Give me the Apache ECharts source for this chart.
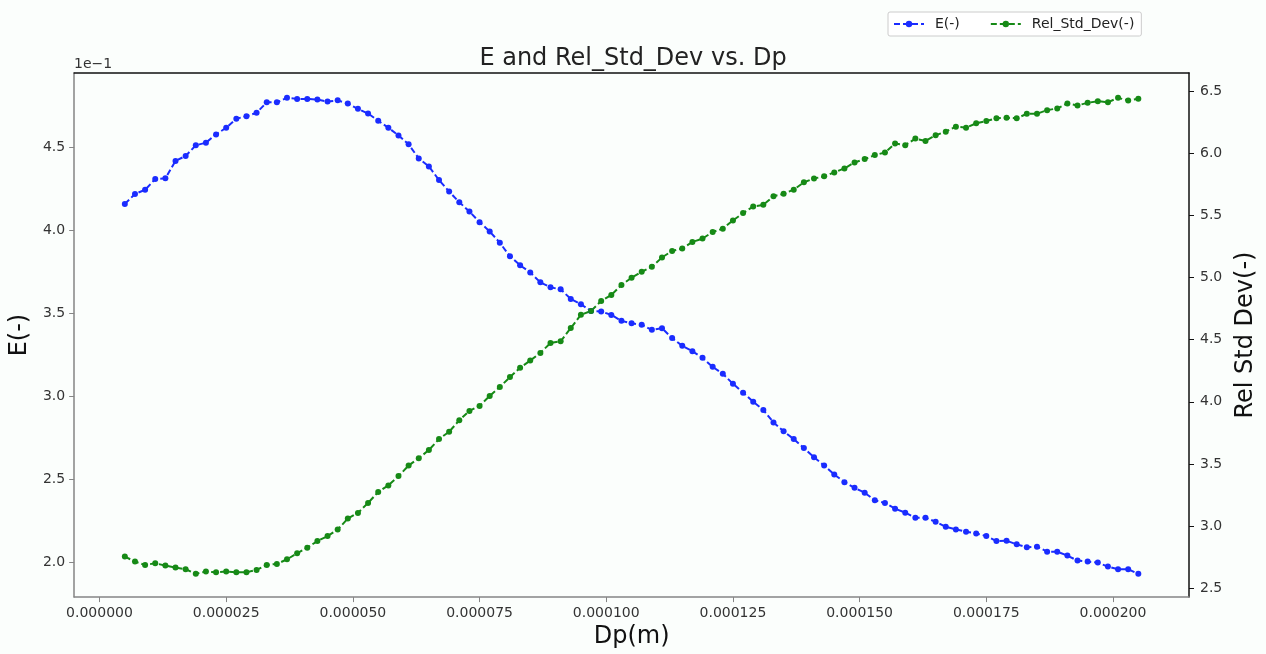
<!DOCTYPE html>
<html>
<head>
<meta charset="utf-8">
<script src="https://cdn.jsdelivr.net/npm/echarts@6.0.0/dist/echarts.min.js"></script>
<style>
  html, body { margin: 0; padding: 0; background: #ffffff; }
  #chart { width: 1266px; height: 654px; }
</style>
</head>
<body>
<div id="chart"></div>
<script>
// particle diameter, in micrometres (converted to metres below)
const dpMicron = [
  5, 7, 9, 11, 13, 15, 17, 19, 21, 23, 25, 27, 29, 31, 33, 35, 37, 39, 41, 43,
  45, 47, 49, 51, 53, 55, 57, 59, 61, 63, 65, 67, 69, 71, 73, 75, 77, 79, 81, 83,
  85, 87, 89, 91, 93, 95, 97, 99, 101, 103, 105, 107, 109, 111, 113, 115, 117, 119, 121, 123,
  125, 127, 129, 131, 133, 135, 137, 139, 141, 143, 145, 147, 149, 151, 153, 155, 157, 159, 161, 163,
  165, 167, 169, 171, 173, 175, 177, 179, 181, 183, 185, 187, 189, 191, 193, 195, 197, 199, 201, 203,
  205
];

// E(-), real values (axis shows them with a 1e-1 offset)
const eValues = [
  0.4160, 0.4220, 0.4245, 0.4310, 0.4314, 0.4419, 0.4449, 0.4513, 0.4529, 0.4579,
  0.4619, 0.4673, 0.4689, 0.4709, 0.4772, 0.4772, 0.4800, 0.4793, 0.4793, 0.4789,
  0.4777, 0.4784, 0.4765, 0.4733, 0.4705, 0.4661, 0.4619, 0.4573, 0.4519, 0.4434,
  0.4386, 0.4304, 0.4234, 0.4170, 0.4114, 0.4050, 0.3994, 0.3926, 0.3844, 0.3790,
  0.3747, 0.3687, 0.3657, 0.3645, 0.3587, 0.3555, 0.3515, 0.3511, 0.3491, 0.3455,
  0.3441, 0.3431, 0.3401, 0.3411, 0.3351, 0.3305, 0.3272, 0.3232, 0.3178, 0.3136,
  0.3076, 0.3022, 0.2968, 0.2918, 0.2843, 0.2789, 0.2743, 0.2689, 0.2633, 0.2583,
  0.2529, 0.2483, 0.2449, 0.2419, 0.2374, 0.2357, 0.2323, 0.2299, 0.2269, 0.2269,
  0.2244, 0.2214, 0.2198, 0.2184, 0.2174, 0.2158, 0.2128, 0.2130, 0.2108, 0.2090,
  0.2094, 0.2064, 0.2064, 0.2040, 0.2010, 0.2004, 0.1998, 0.1974, 0.1958, 0.1958,
  0.1930
];

// Rel_Std_Dev(-)
const relStdDev = [
  2.754, 2.714, 2.687, 2.700, 2.682, 2.666, 2.652, 2.615, 2.634, 2.628,
  2.634, 2.628, 2.628, 2.647, 2.687, 2.695, 2.732, 2.780, 2.826, 2.879,
  2.919, 2.972, 3.060, 3.106, 3.186, 3.274, 3.327, 3.402, 3.487, 3.546,
  3.612, 3.700, 3.759, 3.852, 3.927, 3.967, 4.047, 4.119, 4.199, 4.274,
  4.332, 4.394, 4.474, 4.487, 4.594, 4.700, 4.732, 4.812, 4.860, 4.940,
  4.999, 5.047, 5.087, 5.162, 5.215, 5.234, 5.287, 5.314, 5.367, 5.394,
  5.460, 5.519, 5.572, 5.586, 5.655, 5.674, 5.708, 5.767, 5.797, 5.815,
  5.847, 5.879, 5.927, 5.954, 5.986, 6.007, 6.079, 6.066, 6.119, 6.100,
  6.146, 6.175, 6.215, 6.207, 6.242, 6.260, 6.282, 6.287, 6.282, 6.319,
  6.319, 6.348, 6.362, 6.402, 6.386, 6.407, 6.420, 6.412, 6.447, 6.426,
  6.439
];

// tick labels
const xTicks = [0, 0.000025, 0.00005, 0.000075, 0.0001, 0.000125, 0.00015, 0.000175, 0.0002];
const eTicks = [0.20, 0.25, 0.30, 0.35, 0.40, 0.45];
const relTicks = [2.5, 3.0, 3.5, 4.0, 4.5, 5.0, 5.5, 6.0, 6.5];

const FONT = 'DejaVu Sans';
const GREY = '#858585';
const DARK = '#111111';

const dp = dpMicron.map(v => v * 1e-6);
const ePairs = dp.map((x, i) => [x, eValues[i]]);
const relPairs = dp.map((x, i) => [x, relStdDev[i]]);

const chart = echarts.init(document.getElementById('chart'), null, { renderer: 'canvas' });

const labelStyle = { fontFamily: FONT, fontSize: 14, color: '#333333' };

chart.setOption({
  backgroundColor: '#fbfefc',
  animation: false,
  textStyle: { fontFamily: FONT },
  title: {
    text: 'E and Rel_Std_Dev vs. Dp',
    left: 'center',
    top: 42,
    textStyle: { fontFamily: FONT, fontSize: 24, fontWeight: 'normal', color: '#222222' }
  },
  legend: {
    left: 888,
    top: 12,
    padding: [5, 7, 5, 5],
    itemWidth: 30,
    itemHeight: 8,
    itemGap: 30,
    borderColor: '#cccccc',
    borderWidth: 1,
    borderRadius: 2,
    backgroundColor: '#ffffff',
    textStyle: { fontFamily: FONT, fontSize: 14, color: '#222222', padding: [0, 0, 0, 6] },
    data: ['E(-)', 'Rel_Std_Dev(-)']
  },
  graphic: [{
    type: 'text',
    left: 74,
    top: 57,
    style: { text: '1e\u22121', font: '14px "DejaVu Sans"', fill: '#333333' }
  }],
  grid: { left: 74, right: 72, top: 73, bottom: 53, containLabel: false },
  xAxis: [{
    type: 'value',
    min: -0.000005,
    max: 0.000215,
    name: 'Dp(m)',
    nameLocation: 'middle',
    nameGap: 27,
    nameTextStyle: { fontFamily: FONT, fontSize: 24, color: '#111111' },
    axisLine: { onZero: false, lineStyle: { color: GREY, width: 1.5 } },
    axisTick: { show: true, length: 5, lineStyle: { color: GREY }, customValues: xTicks },
    axisLabel: Object.assign({ margin: 9, customValues: xTicks, formatter: v => v.toFixed(6) }, labelStyle),
    splitLine: { show: false }
  }, {
    type: 'value',
    position: 'top',
    min: -0.000005,
    max: 0.000215,
    axisLine: { onZero: false, lineStyle: { color: DARK, width: 1.5 } },
    axisTick: { show: false },
    axisLabel: { show: false },
    splitLine: { show: false }
  }],
  yAxis: [{
    type: 'value',
    position: 'left',
    min: 0.1790,
    max: 0.4949,
    name: 'E(-)',
    nameLocation: 'middle',
    nameGap: 33,
    nameTextStyle: { fontFamily: FONT, fontSize: 24, color: '#111111' },
    axisLine: { show: true, onZero: false, lineStyle: { color: GREY, width: 1.5 } },
    axisTick: { show: true, length: 5, lineStyle: { color: GREY }, customValues: eTicks },
    axisLabel: Object.assign({ margin: 9, customValues: eTicks, formatter: v => (v * 10).toFixed(1) }, labelStyle),
    splitLine: { show: false }
  }, {
    type: 'value',
    position: 'right',
    min: 2.428,
    max: 6.647,
    name: 'Rel Std Dev(-)',
    nameLocation: 'middle',
    nameGap: 45,
    nameRotate: 90,
    nameTextStyle: { fontFamily: FONT, fontSize: 24, color: '#111111' },
    axisLine: { show: true, onZero: false, lineStyle: { color: DARK, width: 1.5 } },
    axisTick: { show: true, length: 5, lineStyle: { color: DARK }, customValues: relTicks },
    axisLabel: Object.assign({ margin: 11, customValues: relTicks, formatter: v => v.toFixed(1) }, labelStyle),
    splitLine: { show: false }
  }],
  series: [{
    name: 'E(-)',
    type: 'line',
    xAxisIndex: 0,
    yAxisIndex: 0,
    data: ePairs,
    symbol: 'circle',
    symbolSize: 6,
    color: '#1a2cff',
    lineStyle: { type: [6, 3], width: 2 },
    itemStyle: { color: '#1a2cff' }
  }, {
    name: 'Rel_Std_Dev(-)',
    type: 'line',
    xAxisIndex: 0,
    yAxisIndex: 1,
    data: relPairs,
    symbol: 'circle',
    symbolSize: 6,
    color: '#168a16',
    lineStyle: { type: [6, 3], width: 2 },
    itemStyle: { color: '#168a16' }
  }]
});
</script>
</body>
</html>
